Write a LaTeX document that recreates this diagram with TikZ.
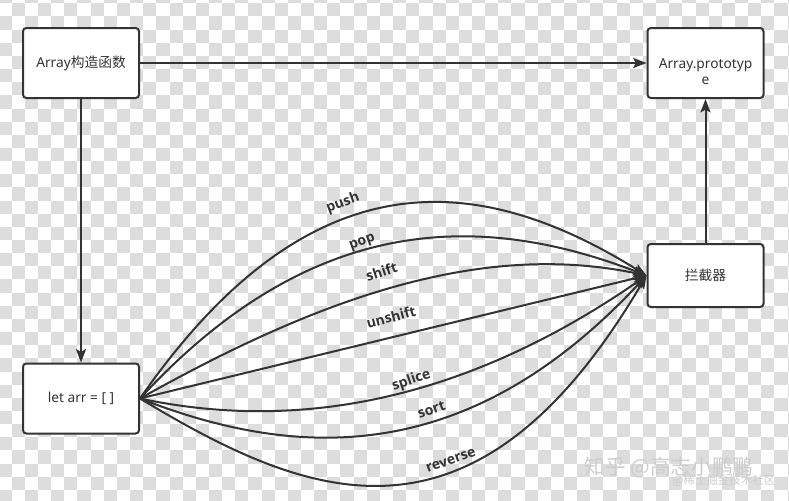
\documentclass[tikz,border=0pt]{standalone}
\usepackage{fontspec}
\setmainfont{Noto Sans}
\newfontfamily\cjk{Noto Sans CJK SC}
\newfontfamily\lblfont{Open Sans}
\usetikzlibrary{arrows.meta}
\definecolor{ink}{HTML}{333333}
\definecolor{chkgrey}{HTML}{DDDDDD}
\definecolor{wm}{HTML}{CDCDCD}
\begin{document}
\begin{tikzpicture}[x=0.75pt,y=-0.75pt,
  box/.style={draw=ink, line width=1.5pt, fill=white, rounded corners=2.5pt,
    minimum width=87pt, minimum height=52.5pt, inner sep=0pt, text=ink,
    font=\fontsize{10.3}{12}\selectfont},
  btext/.style={text=ink, align=center, inner sep=0pt, font=\fontsize{10.3}{11.6}\selectfont},
  conn/.style={draw=ink, line width=1.5pt, -{Stealth[length=10pt,width=7.5pt,inset=2pt]}},
  lbl/.style={text=ink, inner sep=0pt, font=\lblfont\bfseries\fontsize{10.5}{12}\selectfont},
  wmark/.style={text=wm, inner sep=0pt}]
\useasboundingbox (0,0) rectangle (789,500);
% checkerboard background
\fill[white] (0,0) rectangle (789,500);
\begin{scope}
  \clip (0,0) rectangle (789,500);
  \foreach \ci in {0,1,...,30}{
    \foreach \cj in {0,1,...,19}{
      \fill[chkgrey] ({-14.6+26.3*\ci},{-23+26.3*\cj}) rectangle ++(13.15,13.15);
      \fill[chkgrey] ({-1.45+26.3*\ci},{-9.85+26.3*\cj}) rectangle ++(13.15,13.15);
    }}
\end{scope}
% boxes
\node[box] (ctor) at (81,63) {Array{\cjk 构造函数}};
\node[box] (proto) at (705.5,63) {};
\node[btext] (protot) at (705.5,71.5) {Array.prototyp\\e};
\node[box, minimum height=47.25pt] (icpt) at (705.5,275.5) {{\cjk 拦截器}};
\node[box] (arr) at (81,398.5) {let arr = [ ]};
% straight connectors
\draw[conn] (ctor) -- (proto);
\draw[conn] (ctor) -- (arr);
\draw[conn] (icpt) -- (proto);
% curved connectors
\draw[conn] (arr.east) .. controls (307,158) and (474,168) .. (icpt.west);
\draw[conn] (arr.east) .. controls (307,217) and (474,209) .. (icpt.west);
\draw[conn] (arr.east) .. controls (307,305) and (474,239) .. (icpt.west);
\draw[conn] (arr.east) -- (icpt.west);
\draw[conn] (arr.east) .. controls (307,434) and (474,395) .. (icpt.west);
\draw[conn] (arr.east) .. controls (307,464) and (474,461) .. (icpt.west);
\draw[conn] (arr.east) .. controls (307,499) and (474,568) .. (icpt.west);
% labels
\node[lbl, rotate=20] (lpush) at (343,203) {push};
\node[lbl, rotate=20] (lpop) at (362.5,243) {pop};
\node[lbl, rotate=18] (lshift) at (381.5,271.5) {shift};
\node[lbl, rotate=15] (lunshift) at (391,317) {unshift};
\node[lbl, rotate=19] (lsplice) at (411.5,380.5) {splice};
\node[lbl, rotate=19] (lsort) at (431.5,409.5) {sort};
\node[lbl, rotate=20] (lreverse) at (451,460.5) {reverse};
% watermark
\node[wmark, font=\cjk\fontsize{15.5}{17}\selectfont] (wm1) at (669,467.5) {知乎 @高志小鹏鹏};
\node[wmark, font=\cjk\fontsize{8.6}{10}\selectfont] (wm2) at (724,481) {@稀土掘金技术社区};
\end{tikzpicture}
\end{document}
